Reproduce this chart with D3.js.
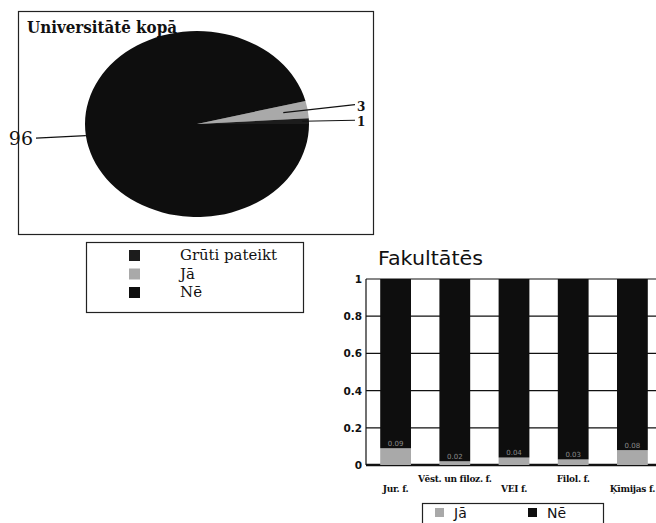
<!DOCTYPE html>
<html>
<head>
<meta charset="utf-8">
<script src="https://cdn.jsdelivr.net/npm/d3@7"></script>
<style>
  body { margin: 0; background: #fff; }
  svg { display: block; }
</style>
</head>
<body>
<svg id="chart" width="656" height="523"></svg>
<script>
// pie: whole university
const pieNames = ["Jā", "Grūti pateikt", "Nē"];
const pieValues = [3, 1, 96];
const pieLegend = ["Grūti pateikt", "Jā", "Nē"];

// bars: by faculty
const faculties = ["Jur. f.", "Vēst. un filoz. f.", "VEI f.", "Filol. f.", "Ķīmijas f."];
const jaValues = [0.09, 0.02, 0.04, 0.03, 0.08];
const neValues = [0.91, 0.98, 0.96, 0.97, 0.92];
const yTicks = [0, 0.2, 0.4, 0.6, 0.8, 1];

const colors = { "Grūti pateikt": "#1c1c1c", "Jā": "#a9a9a9", "Nē": "#0e0e0e" };
const serif = "'DejaVu Serif', 'Liberation Serif', serif";
const sans = "'DejaVu Sans', 'Liberation Sans', sans-serif";

const svg = d3.select("#chart");

// ---------- pie ----------
svg.append("rect")
  .attr("x", 18.5).attr("y", 11.5).attr("width", 355).attr("height", 223)
  .attr("fill", "none").attr("stroke", "#222").attr("stroke-width", 1.2);

svg.append("text")
  .attr("x", 27).attr("y", 33)
  .attr("font-family", serif).attr("font-weight", "bold").attr("font-size", 17)
  .attr("textLength", 150).attr("lengthAdjust", "spacingAndGlyphs")
  .attr("fill", "#111")
  .text("Universitātē kopā");

const cx = 197, cy = 124, r = 112, squash = 0.83;
const start = Math.PI / 2 - 0.08 * Math.PI;
const slices = d3.pie().sort(null).value(d => d.value)
  .startAngle(start).endAngle(start + 2 * Math.PI)
  (pieNames.map((n, i) => ({ name: n, value: pieValues[i] })));

const arc = d3.arc().innerRadius(0).outerRadius(r);
svg.append("g")
  .attr("transform", `translate(${cx},${cy}) scale(1,${squash})`)
  .selectAll("path")
  .data(slices)
  .join("path")
  .attr("d", arc)
  .attr("fill", d => colors[d.data.name]);

// label leader lines
const labelLayout = {
  "Jā": { f: 0.78, side: 1, dy: -8, ty: 3, size: 12 },
  "Grūti pateikt": { f: 0.94, side: 1, dy: -1, ty: 2.5, size: 12 },
  "Nē": { f: 1.0, side: -1, dy: 2.5, ty: 2, size: 19 }
};
slices.forEach(d => {
  const L = labelLayout[d.data.name];
  const a = (d.startAngle + d.endAngle) / 2;
  const x0 = cx + r * L.f * Math.sin(a);
  const y0 = cy - r * L.f * Math.cos(a) * squash;
  const x1 = L.side > 0 ? cx + r + 46 : cx - r - 49;
  const y1 = y0 + L.dy;
  svg.append("line")
    .attr("x1", x0).attr("y1", y0).attr("x2", x1).attr("y2", y1)
    .attr("stroke", "#111").attr("stroke-width", 1.2);
  svg.append("text")
    .attr("x", L.side > 0 ? x1 + 2 : x1 - 3)
    .attr("y", y1 + L.ty)
    .attr("dominant-baseline", "middle")
    .attr("text-anchor", L.side > 0 ? "start" : "end")
    .attr("font-family", serif).attr("font-weight", L.side > 0 ? "bold" : "normal")
    .attr("font-size", L.size)
    .attr("fill", "#111")
    .text(d.data.value);
});

// pie legend
svg.append("rect")
  .attr("x", 86.5).attr("y", 242.5).attr("width", 217).attr("height", 70)
  .attr("fill", "none").attr("stroke", "#222").attr("stroke-width", 1.2);
const pl = svg.append("g");
pieLegend.forEach((n, i) => {
  const y = 250 + i * 18.5;
  pl.append("rect").attr("x", 129).attr("y", y).attr("width", 11).attr("height", 11)
    .attr("fill", colors[n]);
  pl.append("text").attr("x", 180).attr("y", y + 10)
    .attr("font-family", serif).attr("font-size", 15).attr("fill", "#111")
    .attr("textLength", n === "Grūti pateikt" ? 97 : null)
    .attr("lengthAdjust", "spacingAndGlyphs")
    .text(n);
});

// ---------- bars ----------
svg.append("text")
  .attr("x", 378).attr("y", 265)
  .attr("font-family", sans).attr("font-size", 19).attr("fill", "#111")
  .attr("textLength", 105).attr("lengthAdjust", "spacingAndGlyphs")
  .text("Fakultātēs");

const x = d3.scaleBand().domain(faculties).range([366, 662])
  .paddingInner(0.48).paddingOuter(0.24);
const y = d3.scaleLinear().domain([0, 1]).range([465, 279]);

const bars = svg.append("g");
// gridlines
bars.selectAll("line.grid")
  .data(yTicks)
  .join("line")
  .attr("class", "grid")
  .attr("x1", 366).attr("x2", 662)
  .attr("y1", d => y(d)).attr("y2", d => y(d))
  .attr("stroke", "#111")
  .attr("stroke-width", d => d === 0 ? 2.5 : 1.2);
bars.append("line")
  .attr("x1", 366).attr("x2", 366).attr("y1", y(1)).attr("y2", y(0))
  .attr("stroke", "#111").attr("stroke-width", 1.2);

bars.selectAll("text.ytick")
  .data(yTicks)
  .join("text")
  .attr("class", "ytick")
  .attr("x", 362).attr("y", d => y(d) + 4)
  .attr("text-anchor", "end")
  .attr("font-family", sans).attr("font-weight", "bold").attr("font-size", 10.5)
  .attr("fill", "#111")
  .text(d => d);

const stackRows = faculties.map((f, i) => ({ f, ja: jaValues[i], ne: neValues[i] }));
bars.selectAll("rect.ja")
  .data(stackRows)
  .join("rect")
  .attr("class", "ja")
  .attr("x", d => x(d.f)).attr("width", x.bandwidth())
  .attr("y", d => y(d.ja)).attr("height", d => y(0) - y(d.ja))
  .attr("fill", colors["Jā"]);
bars.selectAll("rect.ne")
  .data(stackRows)
  .join("rect")
  .attr("class", "ne")
  .attr("x", d => x(d.f)).attr("width", x.bandwidth())
  .attr("y", d => y(d.ja + d.ne)).attr("height", d => y(d.ja) - y(d.ja + d.ne))
  .attr("fill", colors["Nē"]);
bars.selectAll("text.val")
  .data(stackRows)
  .join("text")
  .attr("class", "val")
  .attr("x", d => x(d.f) + x.bandwidth() / 2)
  .attr("y", d => y(d.ja) - 2.5)
  .attr("text-anchor", "middle")
  .attr("font-family", sans).attr("font-size", 7).attr("fill", "#8a8a8a")
  .text(d => d.ja.toFixed(2));

// staggered category labels
bars.selectAll("text.xlab")
  .data(faculties)
  .join("text")
  .attr("class", "xlab")
  .attr("x", d => x(d) + x.bandwidth() / 2)
  .attr("y", (d, i) => i % 2 ? 482 : 492)
  .attr("text-anchor", "middle")
  .attr("font-family", serif).attr("font-weight", "bold").attr("font-size", 9)
  .attr("letter-spacing", -0.3)
  .attr("fill", "#111")
  .text(d => d);

// bar legend
svg.append("rect")
  .attr("x", 422.5).attr("y", 503.5).attr("width", 181).attr("height", 30)
  .attr("fill", "none").attr("stroke", "#222").attr("stroke-width", 1.2);
["Jā", "Nē"].forEach((n, i) => {
  const lx = 435 + i * 93;
  svg.append("rect").attr("x", lx).attr("y", 508).attr("width", 9).attr("height", 9)
    .attr("fill", colors[n]);
  svg.append("text").attr("x", lx + 19).attr("y", 518)
    .attr("font-family", sans).attr("font-size", 14).attr("fill", "#111")
    .text(n);
});
</script>
</body>
</html>
